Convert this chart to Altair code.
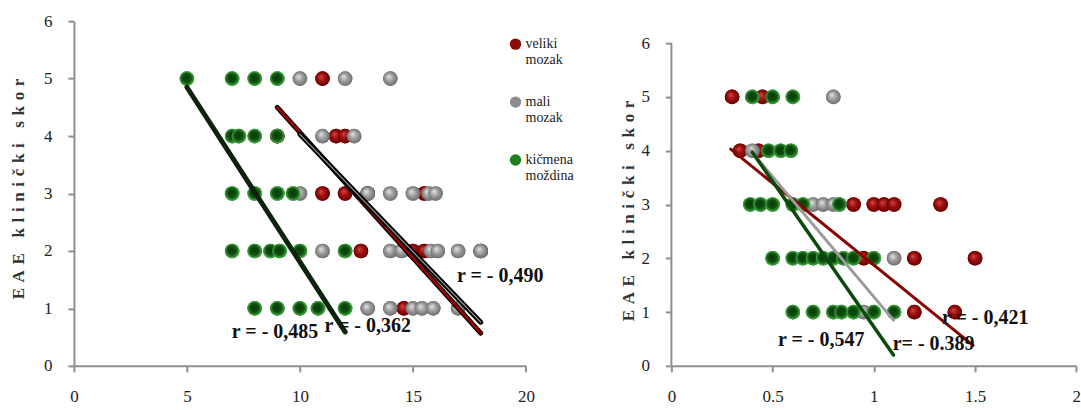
import altair as alt
import pandas as pd

SERIES = ["veliki mozak", "mali mozak", "kičmena moždina"]
LEGEND_COLORS = ["#8b0a0a", "#8c8c8c", "#1f7f1f"]

# ---------------- left panel data ----------------
L_red_x = [11, 9, 11.6, 12, 11, 12, 13, 15.5, 12.7, 15, 15.5, 18, 14.6]
L_red_y = [5, 4, 4, 4, 3, 3, 3, 3, 2, 2, 2, 2, 1]
L_gray_x = [10, 12, 14, 11, 12.4, 10, 13, 14, 15, 15.7, 16,
            11, 14, 14.5, 15.8, 16.1, 17, 18, 13, 14, 15, 15.4, 15.9, 17]
L_gray_y = [5, 5, 5, 4, 4, 3, 3, 3, 3, 3, 3,
            2, 2, 2, 2, 2, 2, 2, 1, 1, 1, 1, 1, 1]
L_green_x = [5, 7, 8, 9, 7, 7.3, 8, 9, 7, 8, 9, 9.7,
             7, 8, 8.7, 9.1, 10, 12, 8, 9, 10, 10.8, 12]
L_green_y = [5, 5, 5, 5, 4, 4, 4, 4, 3, 3, 3, 3,
             2, 2, 2, 2, 2, 2, 1, 1, 1, 1, 1]

# trendline end points
L_line_red_x = [9, 18]
L_line_red_y = [4.5, 0.57]
L_line_gray_x = [10, 18]
L_line_gray_y = [4.03, 0.76]
L_line_green_x = [5, 12]
L_line_green_y = [4.85, 0.59]

L_ann_text = ["r = - 0,490", "r = - 0,485", "r = - 0,362"]
L_ann_x = [18.86, 8.9, 13.0]
L_ann_y = [1.56, 0.59, 0.69]

# ---------------- right panel data ----------------
R_red_x = [0.3, 0.45, 0.34, 0.43, 0.9, 1.0, 1.05, 1.1, 1.33, 0.95, 1.2, 1.5, 1.2, 1.4]
R_red_y = [5, 5, 4, 4, 3, 3, 3, 3, 3, 2, 2, 2, 1, 1]
R_gray_x = [0.8, 0.4, 0.7, 0.75, 0.8, 1.1, 0.95]
R_gray_y = [5, 4, 3, 3, 3, 2, 1]
R_green_x = [0.4, 0.5, 0.6, 0.48, 0.54, 0.59, 0.39, 0.44, 0.5, 0.6, 0.65, 0.83,
             0.5, 0.6, 0.65, 0.7, 0.75, 0.8, 0.85, 0.9, 1.0,
             0.6, 0.7, 0.8, 0.84, 0.9, 1.0, 1.1]
R_green_y = [5, 5, 5, 4, 4, 4, 3, 3, 3, 3, 3, 3,
             2, 2, 2, 2, 2, 2, 2, 2, 2,
             1, 1, 1, 1, 1, 1, 1]

R_line_red_x = [0.293, 1.49]
R_line_red_y = [4.03, 0.38]
R_line_gray_x = [0.39, 1.097]
R_line_gray_y = [4.01, 0.85]
R_line_green_x = [0.40, 1.097]
R_line_green_y = [3.97, 0.20]

R_ann_text = ["r = - 0,421", "r = - 0,547", "r= - 0.389"]
R_ann_x = [1.55, 0.74, 1.295]
R_ann_y = [0.89, 0.48, 0.40]

Y_TITLE = "EAE klinički skor"
Y_TITLE_SPACED = "\u2004".join(list(Y_TITLE))

GRADIENTS = {
    "veliki mozak": {"gradient": "radial", "x1": 0.38, "y1": 0.35, "r1": 0.0,
                     "x2": 0.5, "y2": 0.5, "r2": 0.55,
                     "stops": [{"offset": 0, "color": "#d24848"},
                               {"offset": 0.45, "color": "#a01010"},
                               {"offset": 1, "color": "#5e0000"}]},
    "mali mozak": {"gradient": "radial", "x1": 0.38, "y1": 0.35, "r1": 0.0,
                   "x2": 0.5, "y2": 0.5, "r2": 0.55,
                   "stops": [{"offset": 0, "color": "#e4e4e4"},
                             {"offset": 0.5, "color": "#9c9c9c"},
                             {"offset": 1, "color": "#686868"}]},
    "kičmena moždina": {"gradient": "radial", "x1": 0.45, "y1": 0.42, "r1": 0.0,
                        "x2": 0.5, "y2": 0.5, "r2": 0.55,
                        "stops": [{"offset": 0, "color": "#0a3a0a"},
                                  {"offset": 0.55, "color": "#0f4f0f"},
                                  {"offset": 0.78, "color": "#2f8f2f"},
                                  {"offset": 1, "color": "#5cbc5c"}]},
}


def points_df(xr, yr, xg, yg, xgr, ygr):
    rows = []
    k = 0
    for name, xs, ys in [(SERIES[0], xr, yr), (SERIES[1], xg, yg), (SERIES[2], xgr, ygr)]:
        for x, y in zip(xs, ys):
            rows.append({"x": x, "y": y, "s": name, "k": k})
            k += 1
    return pd.DataFrame(rows)


def line_df(x, y):
    return pd.DataFrame({"x": x, "y": y})


SERIF = "Liberation Serif"
AXIS_COLOR = "#8f8f8f"
DOT = 215


def panel(df, xdom, xvals, ydom, width, height, title_x, title_y, lines, ann,
          legend, ydomain_line):
    x_enc = alt.X("x:Q", scale=alt.Scale(domain=xdom, nice=False, zero=False),
                  axis=alt.Axis(values=xvals, format="~g", grid=False, title=None, tickSize=6,
                                labelPadding=17, domainColor=AXIS_COLOR, tickColor=AXIS_COLOR,
                                domainWidth=2, tickWidth=2, labelFlush=False))
    y_enc = alt.Y("y:Q", scale=alt.Scale(domain=ydom, nice=False, zero=True),
                  axis=alt.Axis(values=[0, 1, 2, 3, 4, 5, 6], format="~g", grid=False,
                                title=Y_TITLE_SPACED,
                                tickSize=6, labelPadding=16, domain=not ydomain_line,
                                domainColor=AXIS_COLOR, tickColor=AXIS_COLOR,
                                domainWidth=2, tickWidth=2,
                                titleX=title_x, titleY=title_y, titleAngle=270,
                                titleAlign="center", titleBaseline="middle",
                                titleFont=SERIF, titleFontSize=17, titleFontWeight="bold",
                                titleColor="#333333"))
    if legend:
        color = alt.Color("s:N", scale=alt.Scale(domain=SERIES, range=LEGEND_COLORS),
                          legend=alt.Legend(orient="none", legendX=435, legendY=16,
                                            title=None, padding=0,
                                            labelExpr="split(datum.label, ' ')",
                                            labelFont=SERIF, labelFontSize=14,
                                            labelColor="#222222", labelOffset=3,
                                            symbolType="circle", symbolSize=130,
                                            symbolStrokeWidth=0, rowPadding=28,
                                            labelLimit=200))
    else:
        color = alt.Color("s:N", scale=alt.Scale(domain=SERIES, range=LEGEND_COLORS),
                          legend=None)
    base = alt.Chart(df).mark_circle(size=DOT, opacity=1).encode(
        x=x_enc, y=y_enc, color=color, order=alt.Order("k:Q"))
    layers = [base]
    for name in SERIES:
        layers.append(alt.Chart(df).transform_filter(alt.datum.s == name)
                      .mark_circle(size=DOT, opacity=1, fill=GRADIENTS[name])
                      .encode(x="x:Q", y="y:Q"))
    if ydomain_line:
        axdf = pd.DataFrame({"x": [xdom[0]], "y": [0], "y2": [6]})
        layers.append(alt.Chart(axdf).mark_rule(color=AXIS_COLOR, strokeWidth=2)
                      .encode(x="x:Q", y="y:Q", y2="y2:Q"))
    for ldf, col, w in lines:
        layers.append(alt.Chart(ldf).mark_line(color=col, strokeWidth=w, strokeCap="round")
                      .encode(x="x:Q", y="y:Q"))
    layers.append(alt.Chart(ann).mark_text(font=SERIF, fontSize=20, fontWeight="bold",
                                           color="#111111")
                  .encode(x="x:Q", y="y:Q", text="t:N"))
    return alt.layer(*layers).properties(width=width, height=height)


left_df = points_df(L_red_x, L_red_y, L_gray_x, L_gray_y, L_green_x, L_green_y)
right_df = points_df(R_red_x, R_red_y, R_gray_x, R_gray_y, R_green_x, R_green_y)

left_lines = [
    (line_df(L_line_red_x, L_line_red_y), "#000000", 5),
    (line_df(L_line_red_x, L_line_red_y), "#a00000", 2.5),
    (line_df(L_line_gray_x, L_line_gray_y), "#000000", 5),
    (line_df(L_line_gray_x, L_line_gray_y), "#9a9a9a", 1.2),
    (line_df(L_line_green_x, L_line_green_y), "#0c240c", 5),
]
right_lines = [
    (line_df(R_line_red_x, R_line_red_y), "#8b0000", 3),
    (line_df(R_line_gray_x, R_line_gray_y), "#9c9c9c", 3),
    (line_df(R_line_green_x, R_line_green_y), "#0b4a0b", 3.5),
]

L_H = 345
R_YMAX = 6 * 345 / 323.0

left = panel(left_df, [0, 20], [0, 5, 10, 15, 20], [0, 6], 452.4, L_H,
             -55.3, 167.5, left_lines,
             pd.DataFrame({"t": L_ann_text, "x": L_ann_x, "y": L_ann_y}),
             True, False)
right = panel(right_df, [0, 2], [0, 0.5, 1, 1.5, 2], [0, R_YMAX], 405.3, L_H,
              -42.7, 189.5, right_lines,
              pd.DataFrame({"t": R_ann_text, "x": R_ann_x, "y": R_ann_y}),
              False, True)

chart = alt.hconcat(left, right, spacing=145, bounds="flush").resolve_scale(
    color="independent", x="independent", y="independent"
).properties(
    padding={"left": 9, "top": 12, "right": 0, "bottom": 0},
    background="white",
).configure_view(stroke=None).configure_axis(
    labelFont=SERIF, labelFontSize=17, labelColor="#222222"
)

chart.save("out.html", embed_options={"renderer": "svg", "actions": False})
